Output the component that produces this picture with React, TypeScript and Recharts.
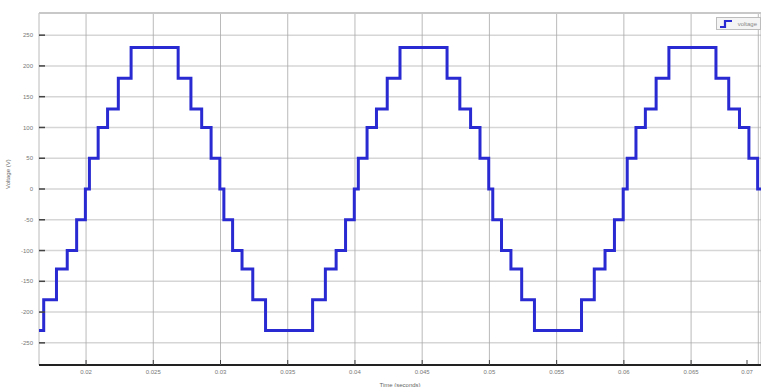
import React from 'react';
import { LineChart, Line, XAxis, YAxis, CartesianGrid, ReferenceLine } from 'recharts';

// staircase breakpoints (s) and the level held from each one (V)
const stepTimes = [
  0.0165, 0.01685, 0.0178, 0.0186, 0.0193, 0.01995, 0.02025, 0.0209, 0.0216, 0.0224, 0.02335,
  0.02685, 0.0278, 0.0286, 0.0293, 0.02995, 0.03025, 0.0309, 0.0316, 0.0324, 0.03335,
  0.03685, 0.0378, 0.0386, 0.0393, 0.03995, 0.04025, 0.0409, 0.0416, 0.0424, 0.04335,
  0.04685, 0.0478, 0.0486, 0.0493, 0.04995, 0.05025, 0.0509, 0.0516, 0.0524, 0.05335,
  0.05685, 0.0578, 0.0586, 0.0593, 0.05995, 0.06025, 0.0609, 0.0616, 0.0624, 0.06335,
  0.06685, 0.0678, 0.0686, 0.0693, 0.06995, 0.0702,
];
const stepLevels = [
  -230, -180, -130, -100, -50, 0, 50, 100, 130, 180, 230,
  180, 130, 100, 50, 0, -50, -100, -130, -180, -230,
  -180, -130, -100, -50, 0, 50, 100, 130, 180, 230,
  180, 130, 100, 50, 0, -50, -100, -130, -180, -230,
  -180, -130, -100, -50, 0, 50, 100, 130, 180, 230,
  180, 130, 100, 50, 0, 0,
];

const xTicks = [0.02, 0.025, 0.03, 0.035, 0.04, 0.045, 0.05, 0.055, 0.06, 0.065, 0.07];
const yTicks = [-250, -200, -150, -100, -50, 0, 50, 100, 150, 200, 250];

const data = stepTimes.map((t, i) => ({ t, v: stepLevels[i] }));

const PLOT_LEFT = 39;
const PLOT_BOTTOM = 365;
const BLUE = '#2a2ad2';

const XTick = (props: any) => {
  const { x, y, payload } = props;
  return (
    <g>
      <line x1={x} y1={PLOT_BOTTOM} x2={x} y2={PLOT_BOTTOM - 5} stroke="#444" strokeWidth={1} />
      <text x={x} y={y} dy="0.71em" textAnchor="middle" fontSize={6} fill="#777">
        {String(payload.value)}
      </text>
    </g>
  );
};

const YTick = (props: any) => {
  const { x, y, payload } = props;
  return (
    <g>
      <line x1={PLOT_LEFT} y1={y} x2={PLOT_LEFT + 6} y2={y} stroke="#444" strokeWidth={1.5} />
      <text x={x} y={y} dy="0.35em" textAnchor="end" fontSize={6} fill="#777">
        {String(payload.value)}
      </text>
    </g>
  );
};

// legend drawn as an overlay so it doesn't push the plot area down
const LegendBox = () => (
  <div
    style={{
      position: 'absolute',
      top: 17,
      right: 0,
      display: 'flex',
      alignItems: 'center',
      height: 11,
      border: '1px solid #bdbdbd',
      background: '#f4f4f4',
      padding: '0 3px',
      fontFamily: 'Liberation Sans, Arial, sans-serif',
      fontSize: 6,
      color: '#888',
    }}
  >
    <svg width={12} height={8} style={{ marginRight: 6 }}>
      <polyline points="0,7 5,7 5,1 12,1" fill="none" stroke={BLUE} strokeWidth={2.2} />
    </svg>
    voltage
  </div>
);

export default function App() {
  return (
    <div style={{ position: 'absolute', left: 0, top: 0, width: 761, height: 387, background: '#fff' }}>
      <LineChart
        width={761}
        height={387}
        data={data}
        margin={{ top: 13, right: 0, bottom: 0, left: 0 }}
        style={{ fontFamily: 'Liberation Sans, Arial, sans-serif' }}
      >
        <CartesianGrid vertical={false} stroke="#d6d6d6" strokeWidth={1.5} />
        <CartesianGrid horizontal={false} stroke="#a8a8a8" strokeWidth={0.8} />
        <ReferenceLine y={286} stroke="#c8c8c8" strokeWidth={2} />
        <XAxis
          dataKey="t"
          type="number"
          domain={[0.0165, 0.0702]}
          allowDataOverflow
          ticks={xTicks}
          height={22}
          tickSize={0}
          tickMargin={5}
          tick={<XTick />}
          axisLine={{ stroke: '#222', strokeWidth: 2 }}
          tickLine={false}
          label={{ value: 'Time (seconds)', position: 'insideBottom', offset: 0, fontSize: 6, fill: '#666' }}
        />
        <YAxis
          type="number"
          domain={[-286, 286]}
          allowDataOverflow
          ticks={yTicks}
          width={PLOT_LEFT}
          tickSize={0}
          tickMargin={6}
          tick={<YTick />}
          axisLine={false}
          tickLine={false}
          label={{ value: 'Voltage (V)', angle: -90, position: 'insideLeft', offset: 8, fontSize: 6, fill: '#666' }}
        />
        <Line
          type="stepAfter"
          dataKey="v"
          stroke={BLUE}
          strokeWidth={3}
          dot={false}
          isAnimationActive={false}
        />
      </LineChart>
      <LegendBox />
    </div>
  );
}
